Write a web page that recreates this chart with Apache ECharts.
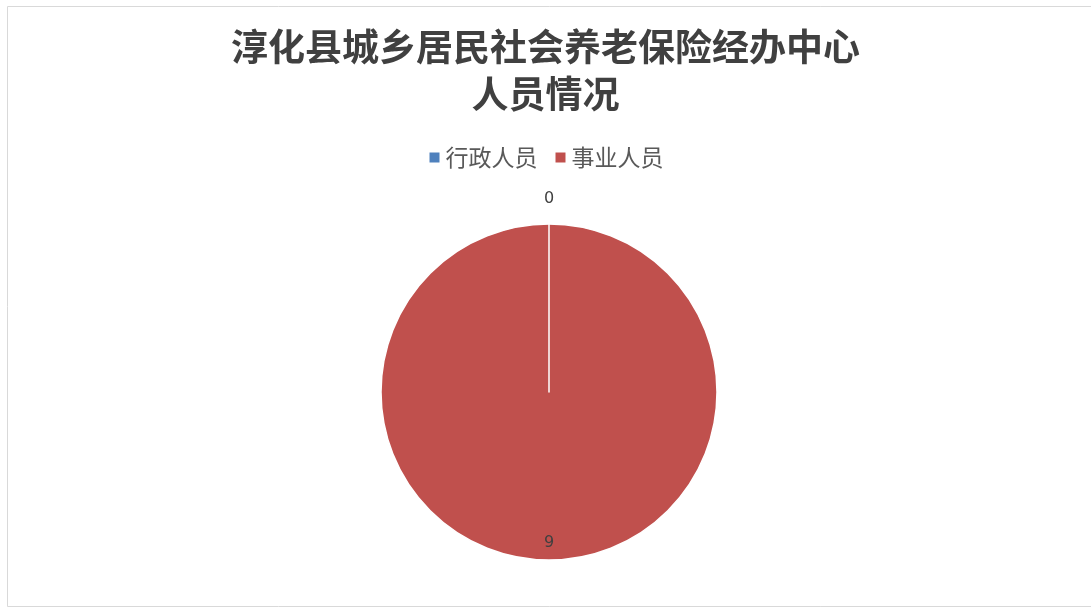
<!DOCTYPE html>
<html><head><meta charset="utf-8">
<script src="https://cdn.jsdelivr.net/npm/echarts@6/dist/echarts.min.js"></script>
<style>html,body{margin:0;padding:0;background:#fff}#c{width:1091px;height:608px}</style>
</head><body><div id="c"></div>
<script>
const categories = ['行政人员', '事业人员'];
const values = [0, 9];
const colors = ['#4F81BD', '#C0504D'];
const titleLines = ['淳化县城乡居民社会养老保险经办中心', '人员情况'];

const chart = echarts.init(document.getElementById('c'));
const pieBase = {type: 'pie', center: [549, 392], radius: 168, startAngle: 90, clockwise: true, color: colors, emphasis: {disabled: true}, animation: false};
chart.setOption({
  animation: false,
  graphic: [{type: 'rect', shape: {x: 7.5, y: 6.5, width: 1100, height: 600}, style: {fill: 'none', stroke: '#d9d9d9', lineWidth: 1}, silent: true}],
  title: {
    text: titleLines.join('\n'), left: 'center', top: 18,
    textStyle: {fontFamily: 'Noto Sans CJK SC', fontSize: 37, fontWeight: 'bold', color: '#404040', lineHeight: 47}
  },
  legend: {
    top: 141, left: 'center', itemWidth: 12, itemHeight: 12, itemGap: 16, icon: 'rect',
    textStyle: {fontFamily: 'Noto Sans CJK SC', fontSize: 23, color: '#595959'},
    data: categories
  },
  series: [Object.assign({}, pieBase, {
    itemStyle: {borderColor: '#fff', borderWidth: 1.5},
    labelLine: {show: false},
    data: categories.map((n, i) => ({
      name: n, value: values[i],
      label: i === 0
        ? {show: true, position: 'inside', offset: [0, -106], formatter: '{c}', fontFamily: 'DejaVu Sans', fontSize: 16, color: '#404040'}
        : {show: true, position: 'inside', offset: [0, 64], formatter: '{c}', fontFamily: 'DejaVu Sans', fontSize: 16, color: '#404040'}
    }))
  }), Object.assign({}, pieBase, {
    silent: true,
    label: {show: false}, labelLine: {show: false},
    data: categories.map((n, i) => ({
      name: n, value: values[i],
      itemStyle: values[i] === 0 ? {borderColor: '#fff', borderWidth: 1.5} : {color: 'rgba(0,0,0,0)', borderWidth: 0}
    }))
  })]
});
</script></body></html>
